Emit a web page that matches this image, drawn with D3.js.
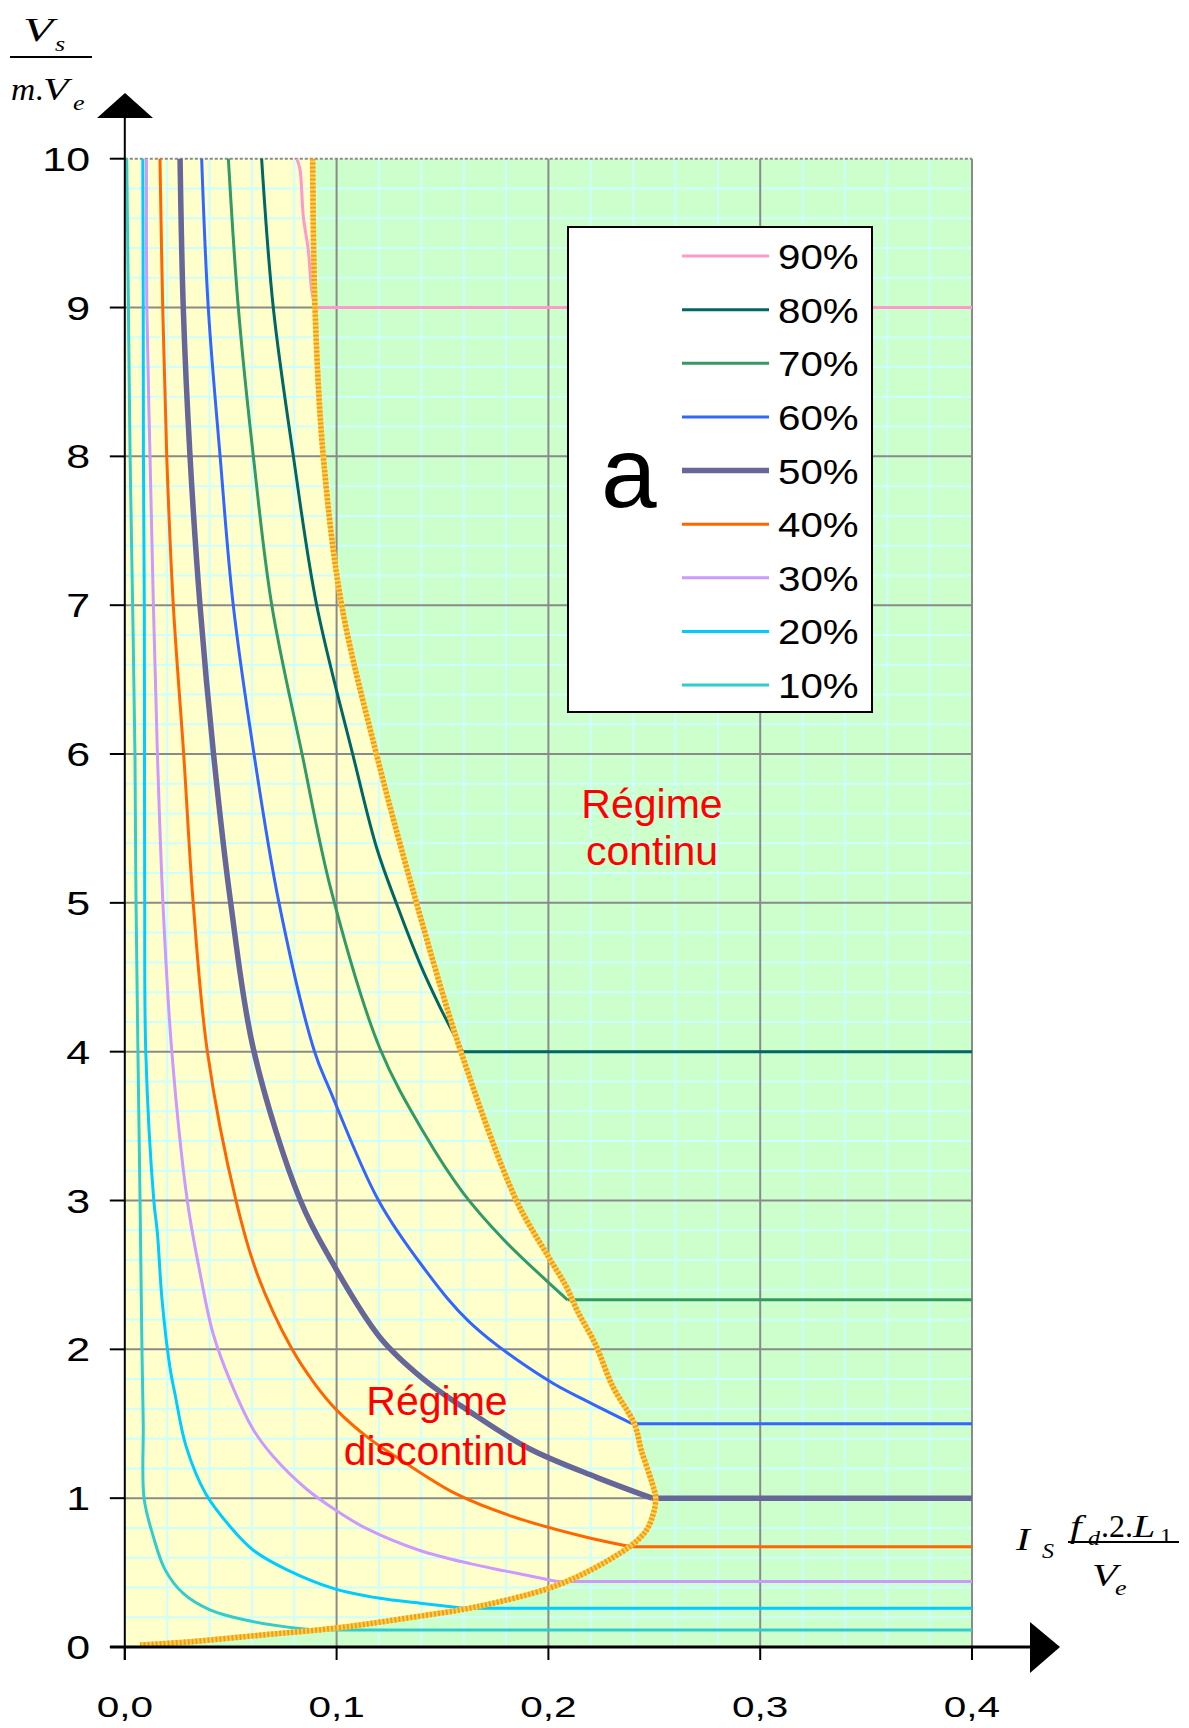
<!DOCTYPE html>
<html>
<head>
<meta charset="utf-8">
<script src="https://cdn.jsdelivr.net/npm/d3@7"></script>
<style>
  body { margin: 0; background: #fff; }
  svg { display: block; }
</style>
</head>
<body>
<svg id="chart" width="1189" height="1728"></svg>
<script>
// ---- Data: normalised output voltage Vs/(m.Ve) versus normalised load current ----
const DUTY_LABELS = ["90%", "80%", "70%", "60%", "50%", "40%", "30%", "20%", "10%"];

// Continuous-conduction level reached by each duty cycle
const CONT_LEVELS = [9, 4, 2.333, 1.5, 1, 0.674, 0.44, 0.26, 0.114];

// Discontinuous-conduction branches, [current, voltage] from the top of the chart down to the boundary
const D90 = [[0.0812,10],[0.0827,9.93],[0.0843,9.61],[0.0866,9.39],[0.0882,9.12],[0.0898,9.0]];
const D80 = [[0.0646,10],[0.0701,9],[0.0796,8],[0.0906,7],[0.1076,6],[0.1189,5.37],[0.1284,4.99],[0.1394,4.59],[0.1488,4.30],[0.1567,4.08],[0.1595,4.0]];
const D70 = [[0.0489,10],[0.0536,9],[0.0607,8],[0.0694,7],[0.0837,6],[0.0975,5.08],[0.1205,4.02],[0.141,3.46],[0.1598,3.05],[0.1787,2.74],[0.1992,2.46],[0.209,2.333]];
const D60 = [[0.0363,10],[0.0394,9],[0.045,8],[0.0512,7],[0.061,6],[0.0728,5],[0.0896,4],[0.0969,3.74],[0.1198,3.0],[0.141,2.55],[0.163,2.18],[0.2,1.79],[0.217,1.66],[0.2395,1.5]];
const D50 = [[0.0261,10],[0.0276,9],[0.0308,8],[0.0355,7],[0.0419,6],[0.050,5],[0.061,4],[0.0829,3],[0.0969,2.61],[0.1205,2.08],[0.141,1.80],[0.163,1.58],[0.1913,1.33],[0.2228,1.14],[0.249,1.0]];
const D40 = [[0.0166,10],[0.0179,9],[0.0198,8],[0.0229,7],[0.0278,6],[0.0323,5],[0.039,4],[0.0525,3],[0.0627,2.5],[0.079,2],[0.0896,1.77],[0.0995,1.6],[0.1145,1.41],[0.130,1.26],[0.1562,1.03],[0.1832,0.876],[0.217,0.741],[0.239,0.674]];
const D30 = [[0.0102,10],[0.0104,9],[0.0119,8],[0.0135,7],[0.0154,6],[0.018,5],[0.0222,4],[0.0295,3],[0.0357,2.5],[0.0416,2.11],[0.0497,1.79],[0.0607,1.46],[0.0701,1.28],[0.0859,1.06],[0.0995,0.92],[0.1135,0.80],[0.139,0.65],[0.163,0.56],[0.180,0.51],[0.204,0.44]];
const D20 = [[0.0085,10],[0.0087,9],[0.0088,8],[0.0092,7],[0.0093,6],[0.0094,5],[0.0099,4],[0.0137,3],[0.0154,2.78],[0.0176,2.33],[0.0213,1.88],[0.0237,1.7],[0.0289,1.35],[0.0382,1.03],[0.0497,0.81],[0.0607,0.65],[0.0764,0.52],[0.0984,0.394],[0.1205,0.327],[0.1394,0.294],[0.16,0.26]];
const D10 = [[0.0009,10],[0.0017,9],[0.0025,8],[0.0037,7],[0.0048,6],[0.0053,5],[0.0062,4],[0.0072,3],[0.0081,2],[0.0087,1.5],[0.0091,1.0],[0.0135,0.74],[0.019,0.52],[0.0276,0.36],[0.0402,0.25],[0.0607,0.17],[0.0812,0.126],[0.092,0.114]];
const BRANCHES = [D90, D80, D70, D60, D50, D40, D30, D20, D10];

// Boundary between continuous and discontinuous conduction
const BOUNDARY = [[0.0887,10],[0.0898,9],[0.0937,8],[0.1024,7],[0.1188,6],[0.1377,5],[0.1587,4],[0.1849,3],[0.2001,2.62],[0.2085,2.42],[0.2136,2.26],[0.222,2.04],[0.2304,1.75],[0.2406,1.5],[0.2439,1.32],[0.249,1.10],[0.2507,0.99],[0.2473,0.81],[0.2423,0.72],[0.2338,0.63],[0.217,0.495],[0.2001,0.394],[0.1664,0.271],[0.1326,0.193],[0.0989,0.126],[0.0652,0.081],[0.0315,0.036],[0.0072,0.013]];

// Axis ticks
const X_TICKS = [0, 0.1, 0.2, 0.3, 0.4];
const X_TICK_LABELS = ["0,0", "0,1", "0,2", "0,3", "0,4"];
const Y_TICKS = [0, 1, 2, 3, 4, 5, 6, 7, 8, 9, 10];
const Y_TICK_LABELS = ["0", "1", "2", "3", "4", "5", "6", "7", "8", "9", "10"];

// ---- Styles ----
const SERIES_COLORS = ["#ff99cc", "#006666", "#339966", "#3366ff", "#666699", "#ff6600", "#cc99ff", "#00ccff", "#33cccc"];
const SERIES_WIDTHS = [3, 3, 3, 3, 5.5, 3, 3, 3, 3];
const YELLOW = "#ffffcc", GREEN = "#ccffcc", MINOR = "#ccffff", MAJOR = "#8a8a8a";

const svg = d3.select("#chart");
const x = d3.scaleLinear().domain([0, 0.4]).range([124.8, 972]);
const y = d3.scaleLinear().domain([0, 10]).range([1647, 158.7]);

const curveLine = d3.line().x(d => x(d[0])).y(d => y(d[1])).curve(d3.curveCatmullRom.alpha(0.5));
const straight = d3.line().x(d => x(d[0])).y(d => y(d[1]));

// ---- Plot background: continuous region (green), discontinuous region (yellow) ----
svg.append("rect")
  .attr("x", x(0)).attr("y", y(10))
  .attr("width", x(0.4) - x(0)).attr("height", y(0) - y(10))
  .attr("fill", GREEN);

svg.append("path")
  .attr("d", curveLine(BOUNDARY) + `L${x(0)},${y(0)}L${x(0)},${y(10)}Z`)
  .attr("fill", YELLOW);

// ---- Grid ----
const minorX = d3.range(1, 20).map(i => i * 0.02).filter((v, i) => (i + 1) % 5 !== 0);
const minorY = d3.range(1, 50).map(i => i * 0.2).filter((v, i) => (i + 1) % 5 !== 0);
const grid = svg.append("g");
grid.selectAll(".mx").data(minorX).join("line")
  .attr("x1", d => x(d)).attr("x2", d => x(d)).attr("y1", y(0)).attr("y2", y(10))
  .attr("stroke", MINOR).attr("stroke-width", 2);
grid.selectAll(".my").data(minorY).join("line")
  .attr("y1", d => y(d)).attr("y2", d => y(d)).attr("x1", x(0)).attr("x2", x(0.4))
  .attr("stroke", MINOR).attr("stroke-width", 2);
grid.selectAll(".Mx").data(X_TICKS.slice(1)).join("line")
  .attr("x1", d => x(d)).attr("x2", d => x(d)).attr("y1", y(0)).attr("y2", y(10))
  .attr("stroke", MAJOR).attr("stroke-width", 2);
grid.selectAll(".My").data(Y_TICKS.slice(1, -1)).join("line")
  .attr("y1", d => y(d)).attr("y2", d => y(d)).attr("x1", x(0)).attr("x2", x(0.4))
  .attr("stroke", MAJOR).attr("stroke-width", 2);
grid.append("line")
  .attr("x1", x(0)).attr("x2", x(0.4)).attr("y1", y(10)).attr("y2", y(10))
  .attr("stroke", MAJOR).attr("stroke-width", 2).attr("stroke-dasharray", "3,2");

// ---- Duty-cycle curves ----
const curves = svg.append("g").attr("fill", "none").attr("stroke-linejoin", "round");
BRANCHES.forEach((pts, i) => {
  const g = curves.append("g").attr("stroke", SERIES_COLORS[i]).attr("stroke-width", SERIES_WIDTHS[i]);
  g.append("path").attr("d", curveLine(pts));
  const last = pts[pts.length - 1];
  g.append("path").attr("d", straight([[last[0], CONT_LEVELS[i]], [0.4, CONT_LEVELS[i]]]));
});

// Boundary curve: yellow under-stroke with orange checks
svg.append("path").attr("d", curveLine(BOUNDARY))
  .attr("fill", "none").attr("stroke", "#ffd34a").attr("stroke-width", 5.5);
svg.append("path").attr("d", curveLine(BOUNDARY))
  .attr("fill", "none").attr("stroke", "#f39a1c").attr("stroke-width", 5.5).attr("stroke-dasharray", "2,2");

// ---- Axes ----
const axes = svg.append("g").attr("stroke", "#000");
axes.append("line").attr("x1", x(0)).attr("x2", x(0)).attr("y1", y(0) + 13).attr("y2", 118).attr("stroke-width", 2);
axes.append("line").attr("x1", 110).attr("x2", 1032).attr("y1", y(0)).attr("y2", y(0)).attr("stroke-width", 3);
axes.selectAll(".yt").data(Y_TICKS).join("line")
  .attr("x1", x(0) - 15).attr("x2", x(0)).attr("y1", d => y(d)).attr("y2", d => y(d)).attr("stroke-width", 2);
axes.selectAll(".xt").data(X_TICKS).join("line")
  .attr("x1", d => x(d)).attr("x2", d => x(d)).attr("y1", y(0)).attr("y2", y(0) + 13).attr("stroke-width", 2);
svg.append("path").attr("d", "M97,118L153,118L125,93Z").attr("fill", "#000");
svg.append("path").attr("d", "M1030,1622L1030,1673L1060,1647Z").attr("fill", "#000");

const sans = "'Liberation Sans', Arial, sans-serif";
const serif = "'Liberation Serif', 'Times New Roman', serif";

svg.append("g").selectAll("text").data(Y_TICKS).join("text")
  .attr("transform", d => `translate(90,${y(d) + 12}) scale(1.3,1)`)
  .attr("text-anchor", "end").attr("font-family", sans).attr("font-size", 33)
  .text((d, i) => Y_TICK_LABELS[i]);

svg.append("g").selectAll("text").data(X_TICKS).join("text")
  .attr("transform", d => `translate(${x(d)},1717) scale(1.35,1)`)
  .attr("text-anchor", "middle").attr("font-family", sans).attr("font-size", 30)
  .text((d, i) => X_TICK_LABELS[i]);

// Axis titles written as small fractions
function piece(txt, px, py, size, sx, italic = true) {
  svg.append("text")
    .attr("transform", `translate(${px},${py}) scale(${sx},1)`)
    .attr("font-family", serif).attr("font-size", size)
    .attr("font-style", italic ? "italic" : "normal")
    .text(txt);
}
// Vs / m.Ve
piece("V", 23, 41, 34, 1.45);
piece("s", 55, 51, 20, 1.3);
svg.append("line").attr("x1", 10).attr("x2", 92).attr("y1", 57).attr("y2", 57).attr("stroke", "#000").attr("stroke-width", 2);
piece("m", 11, 100, 32, 1.05);
piece(".", 36, 100, 32, 1.0);
piece("V", 43, 100, 32, 1.3);
piece("e", 73, 110, 20, 1.3);
// Is . fd.2.L1 / Ve
piece("I", 1016, 1550, 32, 1.3);
piece("S", 1042, 1558, 20, 1.2);
piece("f", 1070, 1537, 32, 1.3);
piece("d", 1088, 1545, 20, 1.2);
piece(".2.", 1101, 1537, 32, 1.0, false);
piece("L", 1133, 1537, 32, 1.25);
piece("1", 1160, 1543, 20, 1.2, false);
svg.append("line").attr("x1", 1068).attr("x2", 1179).attr("y1", 1542).attr("y2", 1542).attr("stroke", "#000").attr("stroke-width", 2);
piece("V", 1092, 1586, 32, 1.3);
piece("e", 1115, 1595, 20, 1.3);

// ---- Region labels ----
const regions = svg.append("g").attr("fill", "#ff0000").attr("font-family", sans).attr("font-size", 41).attr("text-anchor", "middle");
regions.append("text").attr("x", 652).attr("y", 818).text("Régime");
regions.append("text").attr("x", 652).attr("y", 865).text("continu");
regions.append("text").attr("x", 437).attr("y", 1415).text("Régime");
regions.append("text").attr("x", 436).attr("y", 1465).text("discontinu");

// ---- Legend ----
const legend = svg.append("g");
legend.append("rect").attr("x", 568).attr("y", 227).attr("width", 304).attr("height", 485)
  .attr("fill", "#fff").attr("stroke", "#000").attr("stroke-width", 2);
const rowY = d3.scalePoint().domain(DUTY_LABELS).range([256, 685]);
DUTY_LABELS.forEach((lab, i) => {
  legend.append("line").attr("x1", 682).attr("x2", 769).attr("y1", rowY(lab)).attr("y2", rowY(lab))
    .attr("stroke", SERIES_COLORS[i]).attr("stroke-width", SERIES_WIDTHS[i]);
  legend.append("text").attr("transform", `translate(778,${rowY(lab) + 13}) scale(1.12,1)`)
    .attr("font-family", sans).attr("font-size", 36).text(lab);
});
legend.append("text").attr("x", 601).attr("y", 507).attr("font-family", sans).attr("font-size", 100).text("a");
</script>
</body>
</html>
